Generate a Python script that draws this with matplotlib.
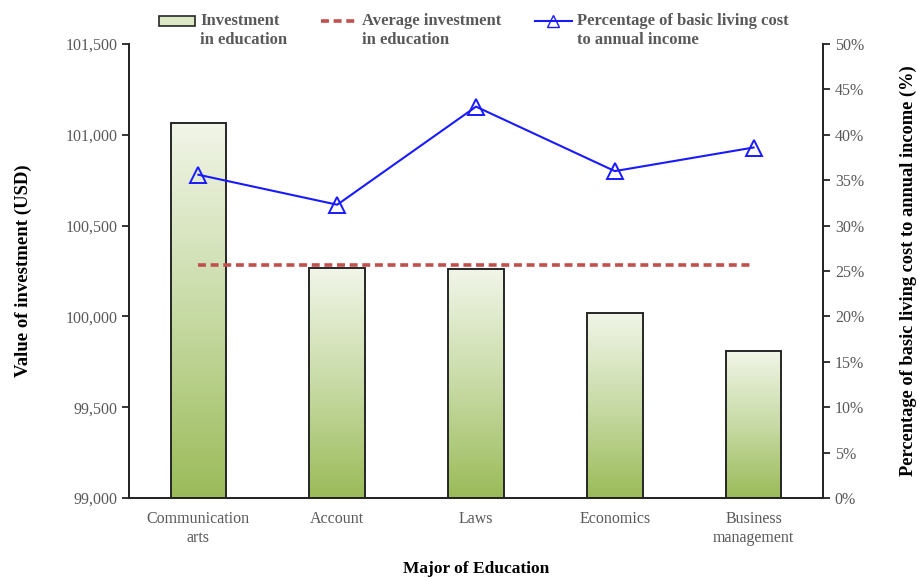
import numpy as np
import matplotlib
matplotlib.use("Agg")
import matplotlib.pyplot as plt
from matplotlib.patches import Patch
from matplotlib.lines import Line2D
from matplotlib.legend_handler import HandlerPatch, HandlerLine2D
from matplotlib.colors import LinearSegmentedColormap
from matplotlib.ticker import FuncFormatter, PercentFormatter
from matplotlib.transforms import Affine2D

plt.rcParams["font.family"] = ["Liberation Serif", "DejaVu Serif"]

majors = ["Communication\narts", "Account", "Laws", "Economics", "Business\nmanagement"]
investment = [101067, 100265, 100259, 100019, 99811]
living_cost_pct = [35.6, 32.3, 43.1, 36.0, 38.6]

y_min, y_max = 99000, 101500
gray = "#595959"


# legend handlers that lift the key up to the first line of a two-line label
class RaisedPatch(HandlerPatch):
    def create_artists(self, legend, orig_handle, xdescent, ydescent,
                       width, height, fontsize, trans):
        trans = Affine2D().translate(0, 0.62 * fontsize) + trans
        return super().create_artists(legend, orig_handle, xdescent, ydescent,
                                      width, height, fontsize, trans)


class RaisedLine(HandlerLine2D):
    def create_artists(self, legend, orig_handle, xdescent, ydescent,
                       width, height, fontsize, trans):
        trans = Affine2D().translate(0, 0.62 * fontsize) + trans
        return super().create_artists(legend, orig_handle, xdescent, ydescent,
                                      width, height, fontsize, trans)


fig = plt.figure(figsize=(9.17, 5.78), dpi=100)
ax = fig.add_axes([0.1407, 0.1384, 0.7568, 0.7855])
ax2 = ax.twinx()

x = np.arange(len(majors))
avg = np.mean(investment)

# bars with a vertical light-to-green gradient
bars = ax.bar(x, np.array(investment) - y_min, bottom=y_min, width=0.4,
              facecolor="none", edgecolor="#262626", linewidth=1.4, zorder=3)
cmap = LinearSegmentedColormap.from_list("grn", ["#9bbb59", "#c8dba6", "#f1f5e8"])
grad = np.linspace(0, 1, 256).reshape(-1, 1)
for b in bars:
    x0, w, top = b.get_x(), b.get_width(), b.get_y() + b.get_height()
    im = ax.imshow(grad, cmap=cmap, origin="lower", aspect="auto",
                   extent=[x0, x0 + w, y_min, top], zorder=2)
    im.set_clip_path(b)

ax.plot([x[0], x[-1]], [avg, avg], color="#c0504d", linewidth=2.6,
        dashes=(2.2, 1.3), zorder=4)

ax2.plot(x, living_cost_pct, color="#1a1aff", linewidth=1.5, marker="^",
         markersize=11, markerfacecolor="none", markeredgewidth=1.4,
         markeredgecolor="#1a1aff", zorder=5)

ax.set_xlim(-0.5, len(majors) - 0.5)
ax.set_ylim(y_min, y_max)
ax.set_yticks(np.arange(y_min, y_max + 1, 500))
ax.yaxis.set_major_formatter(FuncFormatter(lambda v, p: f"{v:,.0f}"))
ax2.set_ylim(0, 50)
ax2.set_yticks(np.arange(0, 51, 5))
ax2.yaxis.set_major_formatter(PercentFormatter(decimals=0))

ax.set_xticks(x)
ax.set_xticklabels(majors, fontsize=11.5, color=gray, linespacing=1.25)
ax.tick_params(axis="x", length=0, pad=9)
ax.tick_params(axis="y", labelsize=11.5, labelcolor=gray, direction="out",
               length=5, width=1.3, color="#262626")
ax2.tick_params(axis="y", labelsize=11.5, labelcolor=gray, direction="out",
                length=5, width=1.3, color="#262626")

for a in (ax, ax2):
    a.spines["top"].set_visible(False)
    for s in ("left", "right", "bottom"):
        a.spines[s].set_linewidth(1.4)
        a.spines[s].set_color("#262626")

ax.set_xlabel("Major of Education", fontsize=12.5, fontweight="bold", labelpad=11)
ax.set_ylabel("Value of investment (USD)", fontsize=13.5, fontweight="bold", labelpad=24)
ax2.set_ylabel("Percentage of basic living cost to annual income (%)",
               fontsize=13.2, fontweight="bold", labelpad=26)

handles = [Patch(facecolor="#dce8c4", edgecolor="#262626", linewidth=1.2),
           Line2D([], [], color="#c0504d", linewidth=2.6, dashes=(2.2, 1.3)),
           Line2D([], [], color="#1a1aff", linewidth=1.5, marker="^", markersize=8,
                  markerfacecolor="none", markeredgecolor="#1a1aff")]
labels = ["Investment\nin education", "Average investment\nin education",
          "Percentage of basic living cost\nto annual income"]
leg = fig.legend(handles, labels, loc="upper left", bbox_to_anchor=(0.162, 0.994),
                 ncol=3, frameon=False, handlelength=2.2,
                 handleheight=0.55, handletextpad=0.3, columnspacing=2.0,
                 borderaxespad=0.2,
                 handler_map={Patch: RaisedPatch(), Line2D: RaisedLine()},
                 prop={"weight": "bold", "size": 12})
for t in leg.get_texts():
    t.set_color(gray)
    t.set_linespacing(1.25)

fig.savefig("out.png", dpi=100)
